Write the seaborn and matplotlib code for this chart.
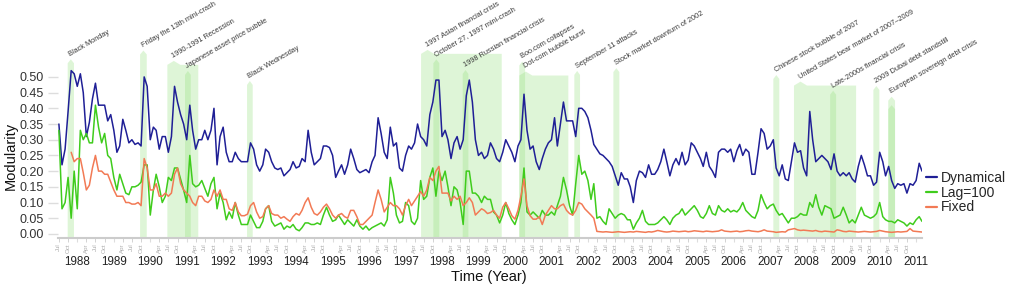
import numpy as np
import pandas as pd
import matplotlib
matplotlib.use("Agg")
import matplotlib.pyplot as plt
import matplotlib.dates as mdates
from matplotlib.lines import Line2D
import seaborn as sns

# monthly readings, Jul 1987 .. Mar 2011
dynamical = [
    0.35, 0.22, 0.27, 0.39, 0.52, 0.51,                                # 1987
    0.47, 0.51, 0.45, 0.31, 0.355, 0.43, 0.48, 0.41, 0.41, 0.41, 0.36, 0.38,   # 1988
    0.33, 0.26, 0.28, 0.365, 0.33, 0.29, 0.30, 0.285, 0.29, 0.28, 0.50, 0.47,  # 1989
    0.30, 0.34, 0.33, 0.27, 0.31, 0.31, 0.26, 0.31, 0.47, 0.42, 0.38, 0.35,    # 1990
    0.30, 0.41, 0.33, 0.27, 0.30, 0.30, 0.33, 0.30, 0.33, 0.40, 0.22, 0.31,    # 1991
    0.34, 0.26, 0.23, 0.23, 0.26, 0.24, 0.23, 0.23, 0.23, 0.29, 0.27, 0.22,    # 1992
    0.20, 0.22, 0.27, 0.26, 0.23, 0.21, 0.205, 0.21, 0.185, 0.195, 0.205, 0.23,  # 1993
    0.21, 0.215, 0.24, 0.23, 0.33, 0.26, 0.22, 0.23, 0.24, 0.28, 0.28, 0.275,  # 1994
    0.25, 0.18, 0.20, 0.22, 0.19, 0.22, 0.27, 0.24, 0.205, 0.195, 0.20, 0.205,  # 1995
    0.195, 0.23, 0.25, 0.37, 0.32, 0.26, 0.24, 0.34, 0.28, 0.29, 0.21, 0.20,   # 1996
    0.25, 0.28, 0.27, 0.29, 0.35, 0.31, 0.30, 0.28, 0.38, 0.42, 0.49, 0.49,    # 1997
    0.31, 0.33, 0.30, 0.24, 0.29, 0.31, 0.27, 0.30, 0.44, 0.49, 0.42, 0.30,    # 1998
    0.25, 0.26, 0.24, 0.25, 0.29, 0.27, 0.24, 0.23, 0.26, 0.30, 0.28, 0.26,    # 1999
    0.23, 0.28, 0.30, 0.445, 0.33, 0.27, 0.28, 0.23, 0.205, 0.24, 0.27, 0.29,  # 2000
    0.30, 0.37, 0.28, 0.35, 0.42, 0.36, 0.36, 0.36, 0.31, 0.40, 0.40, 0.39,    # 2001
    0.37, 0.33, 0.285, 0.27, 0.255, 0.25, 0.24, 0.23, 0.215, 0.185, 0.155, 0.195,  # 2002
    0.175, 0.175, 0.15, 0.10, 0.17, 0.20, 0.195, 0.18, 0.22, 0.19, 0.19, 0.205,  # 2003
    0.23, 0.27, 0.23, 0.185, 0.22, 0.24, 0.22, 0.26, 0.22, 0.235, 0.29, 0.28,  # 2004
    0.26, 0.24, 0.215, 0.26, 0.215, 0.20, 0.18, 0.26, 0.27, 0.27, 0.26, 0.27,  # 2005
    0.23, 0.265, 0.285, 0.25, 0.27, 0.26, 0.19, 0.19, 0.26, 0.335, 0.32, 0.27,  # 2006
    0.28, 0.30, 0.21, 0.185, 0.22, 0.175, 0.17, 0.23, 0.29, 0.26, 0.265, 0.21,  # 2007
    0.185, 0.39, 0.30, 0.23, 0.24, 0.25, 0.24, 0.23, 0.205, 0.255, 0.20, 0.185,  # 2008
    0.195, 0.185, 0.195, 0.175, 0.165, 0.215, 0.25, 0.22, 0.185, 0.185, 0.155, 0.165,  # 2009
    0.26, 0.23, 0.185, 0.215, 0.17, 0.145, 0.16, 0.155, 0.16, 0.13, 0.16, 0.155,  # 2010
    0.17, 0.225, 0.20,                                                 # 2011
]
lag100 = [
    0.33, 0.08, 0.10, 0.18, 0.05, 0.20,
    0.08, 0.33, 0.30, 0.32, 0.29, 0.29, 0.41, 0.34, 0.29, 0.32, 0.25, 0.24,
    0.18, 0.14, 0.19, 0.16, 0.13, 0.125, 0.15, 0.15, 0.155, 0.165, 0.22, 0.22,
    0.06, 0.14, 0.19, 0.15, 0.10, 0.12, 0.18, 0.17, 0.21, 0.21, 0.175, 0.14,
    0.10, 0.25, 0.16, 0.15, 0.155, 0.17, 0.145, 0.12, 0.16, 0.18, 0.08, 0.13,
    0.10, 0.045, 0.07, 0.05, 0.10, 0.06, 0.03, 0.03, 0.03, 0.06, 0.04, 0.02,
    0.02, 0.04, 0.08, 0.09, 0.04, 0.025, 0.03, 0.035, 0.015, 0.025, 0.02, 0.03,
    0.015, 0.01, 0.02, 0.035, 0.035, 0.03, 0.03, 0.035, 0.03, 0.06, 0.085, 0.06,
    0.04, 0.045, 0.06, 0.045, 0.03, 0.045, 0.035, 0.025, 0.045, 0.025, 0.015, 0.025,
    0.012, 0.02, 0.025, 0.03, 0.035, 0.025, 0.045, 0.18, 0.13, 0.06, 0.035, 0.04,
    0.10, 0.09, 0.04, 0.03, 0.05, 0.17, 0.11, 0.12, 0.18, 0.21, 0.12, 0.20,
    0.17, 0.20, 0.15, 0.09, 0.15, 0.14, 0.10, 0.03, 0.20, 0.20, 0.13, 0.13,
    0.12, 0.10, 0.12, 0.11, 0.11, 0.07, 0.06, 0.035, 0.06, 0.10, 0.065, 0.045,
    0.03, 0.06, 0.10, 0.21, 0.07, 0.06, 0.07, 0.06, 0.05, 0.075, 0.06, 0.06,
    0.07, 0.06, 0.09, 0.12, 0.18, 0.14, 0.09, 0.06, 0.16, 0.25, 0.19, 0.20,
    0.17, 0.11, 0.16, 0.05, 0.055, 0.04, 0.03, 0.08, 0.065, 0.05, 0.06, 0.065,
    0.06, 0.045, 0.045, 0.015, 0.035, 0.05, 0.075, 0.04, 0.03, 0.03, 0.03, 0.035,
    0.045, 0.055, 0.045, 0.03, 0.05, 0.06, 0.065, 0.08, 0.06, 0.07, 0.08, 0.09,
    0.075, 0.055, 0.05, 0.065, 0.09, 0.065, 0.06, 0.09, 0.075, 0.07, 0.08, 0.07,
    0.075, 0.07, 0.08, 0.10, 0.075, 0.065, 0.055, 0.05, 0.075, 0.125, 0.10, 0.08,
    0.09, 0.095, 0.075, 0.06, 0.065, 0.05, 0.035, 0.05, 0.05, 0.055, 0.065, 0.06,
    0.06, 0.10, 0.085, 0.125, 0.085, 0.06, 0.09, 0.085, 0.08, 0.05, 0.055, 0.06,
    0.085, 0.06, 0.035, 0.045, 0.035, 0.06, 0.085, 0.06, 0.055, 0.05, 0.055, 0.065,
    0.10, 0.055, 0.045, 0.04, 0.04, 0.035, 0.045, 0.04, 0.035, 0.025, 0.035, 0.03,
    0.045, 0.055, 0.04,
]
fixed = [
    np.nan, np.nan, np.nan, np.nan, 0.26, 0.23,
    0.24, 0.24, 0.195, 0.14, 0.155, 0.21, 0.25, 0.20, 0.20, 0.19, 0.19, 0.165,
    0.14, 0.12, 0.12, 0.12, 0.10, 0.10, 0.095, 0.095, 0.10, 0.09, 0.24, 0.21,
    0.14, 0.14, 0.16, 0.12, 0.12, 0.13, 0.12, 0.13, 0.19, 0.21, 0.16, 0.14,
    0.13, 0.12, 0.10, 0.09, 0.12, 0.12, 0.105, 0.10, 0.11, 0.14, 0.12, 0.14,
    0.11, 0.11, 0.08, 0.075, 0.10, 0.07, 0.058, 0.058, 0.063, 0.09, 0.10, 0.07,
    0.05, 0.055, 0.08, 0.09, 0.065, 0.06, 0.06, 0.05, 0.055, 0.047, 0.04, 0.055,
    0.065, 0.06, 0.075, 0.10, 0.115, 0.085, 0.065, 0.06, 0.07, 0.085, 0.095, 0.08,
    0.06, 0.05, 0.06, 0.065, 0.055, 0.05, 0.075, 0.075, 0.055, 0.03, 0.03, 0.04,
    0.05, 0.06, 0.10, 0.14, 0.11, 0.07, 0.085, 0.10, 0.09, 0.09, 0.08, 0.06,
    0.09, 0.11, 0.09, 0.105, 0.12, 0.135, 0.12, 0.14, 0.18, 0.17, 0.20, 0.215,
    0.13, 0.13, 0.13, 0.105, 0.12, 0.11, 0.12, 0.09, 0.10, 0.115, 0.10, 0.06,
    0.07, 0.08, 0.075, 0.065, 0.068, 0.075, 0.06, 0.05, 0.085, 0.10, 0.08, 0.058,
    0.047, 0.075, 0.12, 0.175, 0.09, 0.058, 0.047, 0.047, 0.055, 0.03, 0.06, 0.075,
    0.09, 0.08, 0.08, 0.09, 0.095, 0.075, 0.065, 0.06, 0.075, 0.10, 0.095, 0.08,
    0.07, 0.06, 0.05, 0.008, 0.007, 0.006, 0.007, 0.006, 0.005, 0.006, 0.007, 0.006,
    0.005, 0.006, 0.007, 0.006, 0.008, 0.007, 0.006, 0.005, 0.007, 0.006, 0.008, 0.011,
    0.009, 0.007, 0.006, 0.007, 0.009, 0.008, 0.007, 0.008, 0.009, 0.007, 0.008, 0.010,
    0.009, 0.008, 0.007, 0.009, 0.008, 0.007, 0.008, 0.009, 0.013, 0.009, 0.008, 0.007,
    0.008, 0.009, 0.007, 0.008, 0.010, 0.011, 0.009, 0.008, 0.007, 0.009, 0.013, 0.009,
    0.008, 0.007, 0.005, 0.006, 0.007, 0.006, 0.013, 0.015, 0.017, 0.013, 0.011, 0.012,
    0.011, 0.010, 0.009, 0.011, 0.008, 0.007, 0.009, 0.008, 0.007, 0.006, 0.013, 0.011,
    0.008, 0.007, 0.009, 0.008, 0.007, 0.006, 0.007, 0.008, 0.007, 0.006, 0.007, 0.008,
    0.011, 0.009, 0.007, 0.006, 0.005, 0.006, 0.007, 0.006, 0.007, 0.008, 0.017, 0.009,
    0.008, 0.007, 0.006,
]

crisis_names = [
    "Black Monday", "Friday the 13th mini-crash", "1990-1991 Recession",
    "Japanese asset price bubble", "Black Wednesday", "1997 Asian financial crisis",
    "October 27, 1997 mini-crash", "1998 Russian financial crisis", "Boo.com collapses",
    "Dot-com bubble burst", "September 11 attacks", "Stock market downturn of 2002",
    "Chinese stock bubble of 2007", "United States bear market of 2007\u20132009",
    "Late-2000s financial crisis", "2009 Dubai debt standstill",
    "European sovereign debt crisis", "",
]
crisis_start = [
    "1987-09-27", "1989-09-21", "1990-06-21", "1990-12-15", "1992-08-27", "1997-06-05",
    "1997-10-06", "1998-07-27", "2000-02-14", "2000-02-14", "2001-08-18", "2002-09-13",
    "2007-02-01", "2007-08-27", "2008-08-23", "2009-10-30", "2010-03-28", "2010-03-28",
]
crisis_end = [
    "1987-11-29", "1989-11-27", "1991-04-27", "1991-02-11", "1992-10-23", "1999-08-22",
    "1997-12-05", "1998-09-22", "2000-04-12", "2001-06-19", "2001-10-14", "2002-11-12",
    "2007-04-02", "2009-05-10", "2008-10-22", "2009-12-29", "2010-06-04", "2010-06-04",
]

dates = pd.date_range("1987-07-01", periods=len(dynamical), freq="MS")
df = pd.DataFrame({"date": dates, "Dynamical": dynamical, "Lag=100": lag100, "Fixed": fixed})
long_df = df.melt(id_vars="date", var_name="series", value_name="modularity")

colors = {"Dynamical": "#1f1f96", "Lag=100": "#3fcc1c", "Fixed": "#f27a55"}

sns.set_theme(style="white")
plt.rcParams["font.family"] = ["Liberation Sans", "DejaVu Sans"]

fig = plt.figure(figsize=(10.09, 2.89), dpi=100)
ax = fig.add_axes([58 / 1009, 51 / 289, 864 / 1009, 218 / 289])

# crisis bands: peak height of each band (px-derived), arrow-shaped top
peak_h = [0.556, 0.584, 0.551, 0.519, 0.487, 0.586, 0.556, 0.522, 0.549,
          0.517, 0.519, 0.528, 0.506, 0.485, 0.456, 0.471, 0.437, 0.41]
bottom = -0.013
tri_w = 13 / 36.47 * 365.25   # days
tri_h = 0.0125
for name, s, e, h in zip(crisis_names, crisis_start, crisis_end, peak_h):
    s = mdates.date2num(pd.Timestamp(s))
    e = mdates.date2num(pd.Timestamp(e))
    w = min(tri_w, e - s)
    top = h - tri_h
    xs = [s, s, s + w / 2, s + w, e, e]
    ys = [bottom, top, h, top, top, bottom]
    ax.fill(xs, ys, color="#94e17d", alpha=0.3, lw=0, zorder=1)
    if name:
        ax.annotate(name, (s + w / 2, h), xytext=(0.3, 1.0), textcoords="offset points",
                    rotation=30, rotation_mode="anchor", ha="left", va="bottom",
                    fontsize=5.3, color="#3a3a3a", annotation_clip=False)

sns.lineplot(data=long_df, x="date", y="modularity", hue="series", palette=colors,
             linewidth=1.1, legend=False, ax=ax, zorder=3)

ax.set_xlim(pd.Timestamp("1987-06-22"), pd.Timestamp("2011-03-01"))
ax.set_ylim(bottom, bottom + 218 / 314)
ax.set_yticks(np.arange(0, 0.501, 0.05))
ax.yaxis.set_major_formatter(matplotlib.ticker.FormatStrFormatter("%.2f"))
ax.tick_params(axis="y", length=7, width=1, color="#dddddd", pad=3.4,
               labelsize=9, labelcolor="#333333", left=True)

ax.xaxis.set_major_locator(mdates.YearLocator(month=1))
ax.xaxis.set_major_formatter(mdates.DateFormatter("%Y"))
ax.xaxis.set_minor_locator(mdates.MonthLocator(bymonth=[4, 7, 10]))
ax.xaxis.set_minor_formatter(mdates.DateFormatter("%b"))
ax.tick_params(axis="x", which="major", length=3, width=0.8, color="#dddddd",
               labelsize=8.4, labelcolor="#222222", pad=10, bottom=True)
ax.tick_params(axis="x", which="minor", length=3, width=0.6, color="#cccccc",
               labelsize=4.4, labelcolor="#aaaaaa", labelrotation=90, pad=1, bottom=True)

for side in ["top", "right", "left"]:
    ax.spines[side].set_visible(False)
ax.spines["bottom"].set_color("#cccccc")
ax.spines["bottom"].set_linewidth(1.5)
ax.grid(False)

ax.set_ylabel("Modularity", fontsize=10.5, color="#111111")
ax.yaxis.set_label_coords(-0.047, (238 - 155.5) / 218)
ax.set_xlabel("Time (Year)", fontsize=10.5, color="#111111")
ax.xaxis.set_label_coords(0.499, -0.148)

handles = [Line2D([], [], color=colors[k], lw=1.6) for k in colors]
ax.legend(handles, list(colors), loc="upper left", bbox_to_anchor=(926 / 1009, 1 - 171 / 289),
          bbox_transform=fig.transFigure, frameon=False, borderpad=0, borderaxespad=0,
          handlelength=0.8, handletextpad=0.25, labelspacing=0.05, fontsize=10)

fig.savefig("out.png", dpi=100)
